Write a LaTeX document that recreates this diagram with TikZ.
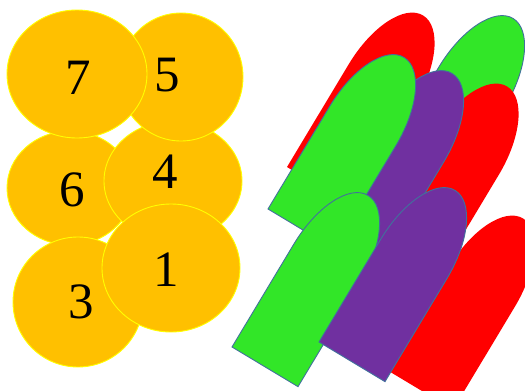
\documentclass[tikz,border=0pt]{standalone}
\usepackage{fontspec}
\setmainfont{Liberation Serif}
\usepackage{tikz}
\usetikzlibrary{positioning,calc}

\definecolor{coingold}{HTML}{FFC000}
\definecolor{coinrim}{HTML}{FFFF00}
\definecolor{tabgreen}{RGB}{50,230,40}
\definecolor{tabpurple}{HTML}{7030A0}
\definecolor{tabred}{HTML}{FF0000}
\definecolor{tabrim}{HTML}{41719C}

\tikzset{
  coin/.style={fill=coingold,draw=coinrim,line width=0.9pt},
  num/.style={inner sep=0pt,font=\fontsize{51}{51}\selectfont},
  tabshape/.style={draw=tabrim,line width=0.9pt},
  redtab/.style={fill=tabred,draw=none}
}

% bullet shaped tab: #1 lower left corner, #2 style
\newcommand{\tab}[2]{%
  \path[#2,shift={#1},rotate=-31] (0,0) -- (77,0) -- (77,120)
    arc[start angle=0,end angle=180,x radius=38.5pt,y radius=80pt] -- cycle;}

\begin{document}
\begin{tikzpicture}[x=1pt,y=1pt]
  \useasboundingbox (0,0) rectangle (525,-391);
  \clip (0,0) rectangle (525,-391);
  % coins
  \draw[coin] (70,-188) ellipse (63pt and 57pt);
  \draw[coin] (173,-181) ellipse (69pt and 60pt);
  \draw[coin] (181,-77) ellipse (62pt and 64pt);
  \draw[coin] (77,-74) ellipse (70pt and 64pt);
  \draw[coin] (78,-302) ellipse (65pt and 65pt);
  \draw[coin] (171,-268) ellipse (69pt and 64pt);
  \node[num] (n7) at (78,-77.5) {7};
  \node[num] (n5) at (167,-75) {5};
  \node[num] (n6) at (72,-190) {6};
  \node[num] (n4) at (165,-172) {4};
  \node[num] (n3) at (81,-302) {3};
  \node[num] (n1) at (166,-270) {1};
  % tabs, back to front
  \tab{(287,-167)}{redtab}
  \tab{(377,-170)}{tabshape,fill=tabgreen}
  \tab{(371,-238)}{redtab}
  \tab{(316,-225)}{tabshape,fill=tabpurple}
  \tab{(268,-209)}{tabshape,fill=tabgreen}
  \tab{(387,-370)}{redtab}
  \tab{(232,-347)}{tabshape,fill=tabgreen}
  \tab{(319,-342)}{tabshape,fill=tabpurple}
\end{tikzpicture}
\end{document}
